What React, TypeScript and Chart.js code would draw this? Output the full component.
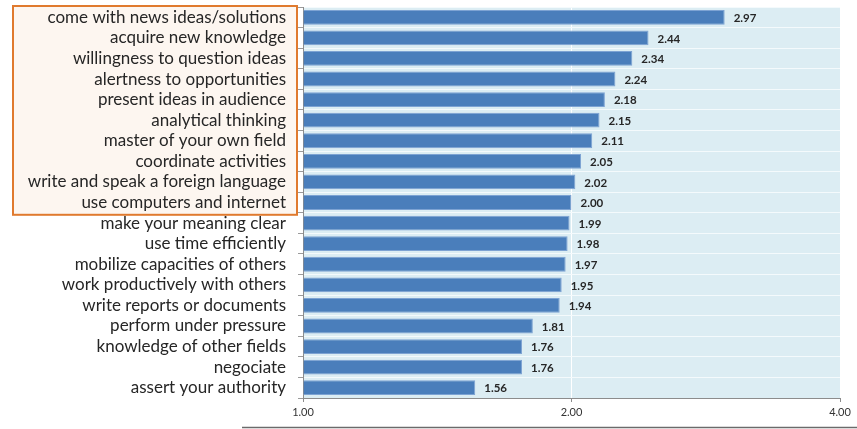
import React, { useEffect, useRef } from "react";
import { Chart, registerables } from "chart.js";

Chart.register(...registerables);

const categories = [
  "come with news ideas/solutions",
  "acquire new knowledge",
  "willingness to question ideas",
  "alertness to opportunities",
  "present ideas in audience",
  "analytical thinking",
  "master of your own field",
  "coordinate activities",
  "write and speak a foreign language",
  "use computers and internet",
  "make your meaning clear",
  "use time efficiently",
  "mobilize capacities of others",
  "work productively with others",
  "write reports or documents",
  "perform under pressure",
  "knowledge of other fields",
  "negociate",
  "assert your authority",
];

const values = [
  2.97, 2.44, 2.34, 2.24, 2.18, 2.15, 2.11, 2.05, 2.02, 2.0, 1.99, 1.98, 1.97,
  1.95, 1.94, 1.81, 1.76, 1.76, 1.56,
];

const xTicks = [1, 2, 4];
const highlightedCount = 10;

const FONT = "Lato, 'Open Sans', sans-serif";

export default function App() {
  const ref = useRef<HTMLCanvasElement | null>(null);

  useEffect(() => {
    if (!ref.current) return;

    const bgPlugin = {
      id: "bgPlugin",
      beforeDraw(chart: any) {
        const { ctx, chartArea, scales } = chart;
        ctx.save();
        ctx.fillStyle = "#dcedf3";
        ctx.fillRect(
          chartArea.left,
          chartArea.top,
          chartArea.right - chartArea.left,
          chartArea.bottom - chartArea.top
        );
        // highlight box around first labels
        const y = scales.y;
        const half = (y.getPixelForValue(1) - y.getPixelForValue(0)) / 2;
        const top = y.getPixelForValue(0) - half - 1;
        const bottom = y.getPixelForValue(highlightedCount - 1) + half + 2;
        const left = 13;
        const right = chartArea.left - 6;
        ctx.fillStyle = "#fdf6f0";
        ctx.fillRect(left, top, right - left, bottom - top);
        ctx.strokeStyle = "#e07a2e";
        ctx.lineWidth = 2;
        ctx.strokeRect(left, top, right - left, bottom - top);
        // bottom artifact line
        ctx.strokeStyle = "#6b6b6b";
        ctx.lineWidth = 1.5;
        ctx.beginPath();
        ctx.moveTo(242, 427.5);
        ctx.lineTo(857, 427.5);
        ctx.stroke();
        ctx.restore();
      },
    };

    const labelPlugin = {
      id: "labelPlugin",
      afterDatasetsDraw(chart: any) {
        const { ctx } = chart;
        const meta = chart.getDatasetMeta(0);
        ctx.save();
        ctx.font = `bold 11.5px ${FONT}`;
        ctx.fillStyle = "#262626";
        ctx.textAlign = "left";
        ctx.textBaseline = "middle";
        meta.data.forEach((bar: any, i: number) => {
          ctx.fillText(values[i].toFixed(2), bar.x + 9, bar.y + 1);
        });
        ctx.restore();
      },
    };

    const chart = new Chart(ref.current, {
      type: "bar",
      data: {
        labels: categories,
        datasets: [
          {
            data: values,
            base: 1,
            backgroundColor: "#4a7ebb",
            borderColor: "#7da3d3",
            borderWidth: 1,
            barPercentage: 0.72,
            categoryPercentage: 1,
          },
        ],
      },
      options: {
        indexAxis: "y",
        responsive: false,
        animation: false,
        layout: { padding: { top: 7, right: 17, left: 0, bottom: 0 } },
        plugins: {
          legend: { display: false },
          tooltip: { enabled: false },
        },
        scales: {
          x: {
            type: "logarithmic",
            min: 1,
            max: 4,
            afterBuildTicks(scale: any) {
              scale.ticks = xTicks.map((v) => ({ value: v }));
            },
            afterFit(scale: any) {
              scale.height = 31;
              scale.paddingLeft = 0;
              scale.paddingRight = 0;
            },
            ticks: {
              callback: (v: any) => Number(v).toFixed(2),
              font: { family: FONT, size: 11 },
              color: "#333333",
              padding: 4,
              autoSkip: false,
              maxRotation: 0,
            },
            grid: {
              color: (c: any) =>
                c.tick && c.tick.value === 2 ? "#ffffff" : "rgba(0,0,0,0)",
              tickColor: "#8c8c8c",
              tickLength: 4,
              lineWidth: 1,
            },
            border: { color: "#8c8c8c", width: 1 },
          },
          y: {
            type: "category",
            afterFit(scale: any) {
              scale.width = 303;
              scale.paddingTop = 0;
              scale.paddingBottom = 0;
            },
            ticks: {
              font: { family: FONT, size: 17 },
              color: "#262626",
              padding: 12,
              autoSkip: false,
            },
            grid: {
              offset: true,
              color: "#f4fafc",
              tickColor: "#9a9a9a",
              tickLength: 5,
              lineWidth: 1,
            },
            border: { color: "#8c8c8c", width: 1 },
          },
        },
      },
      plugins: [bgPlugin, labelPlugin],
    } as any);

    return () => chart.destroy();
  }, []);

  return (
    <div
      style={{
        position: "fixed",
        left: 0,
        top: 0,
        width: 857,
        height: 429,
        background: "#ffffff",
      }}
    >
      <canvas ref={ref} width={857} height={429} />
    </div>
  );
}
